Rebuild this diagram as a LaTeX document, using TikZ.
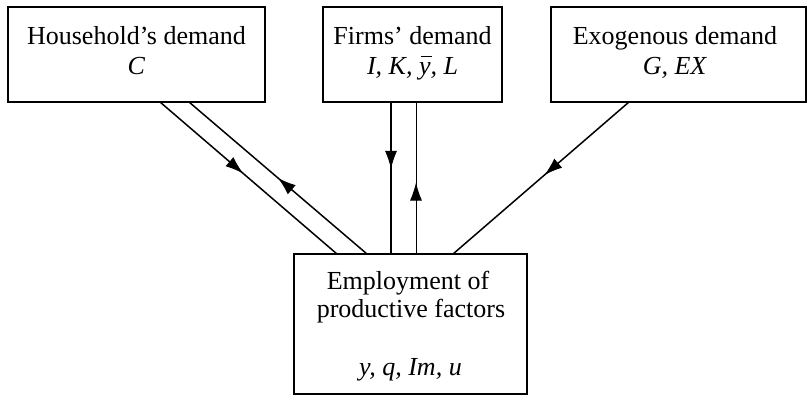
\documentclass[tikz,border=0pt]{standalone}
\usepackage{fontspec}
\setmainfont{Liberation Serif}
\usetikzlibrary{arrows.meta,decorations.markings}
\newcommand{\ybarsym}{\leavevmode\hbox{\rlap{\kern0.08em\raisebox{0.68em}{\rule{0.42em}{0.05em}}}\textit{y}}}
\begin{document}
\begin{tikzpicture}[x=1pt,y=-1pt,
  box/.style={draw,line width=2pt,inner sep=0pt,outer sep=0pt},
  lbl/.style={font=\fontsize{26}{30}\selectfont,inner sep=0pt,anchor=base},
  flow/.style={line width=1.5pt,postaction={decorate},
    decoration={markings,mark=at position #1 with {\arrow[line width=1pt]{Latex[length=18pt,width=12pt]}}}},
]
\useasboundingbox (0,0) rectangle (808,395);
% boxes
\node[box,minimum width=257pt,minimum height=95pt] (hh) at (136.5,54.5) {};
\node[box,minimum width=179pt,minimum height=95pt] (firm) at (412.5,54.5) {};
\node[box,minimum width=255pt,minimum height=95pt] (exo) at (678.5,54.5) {};
\node[box,minimum width=233pt,minimum height=140pt] (emp) at (410.5,324) {};
% texts
\node[lbl] (t1) at (136.5,45) {Household’s demand};
\node[lbl] (t2) at (136.5,75) {\textit{C}};
\node[lbl] (t3) at (412.5,45) {Firms’ demand};
\node[lbl] (t4) at (412.5,75) {\textit{I, K, \ybarsym, L}};
\node[lbl] (t5) at (675,45) {Exogenous demand};
\node[lbl] (t6) at (675,75) {\textit{G, EX}};
\node[lbl] (t7) at (408,290) {Employment of};
\node[lbl] (t8) at (411,317) {productive factors};
\node[lbl] (t9) at (410.5,375) {\textit{y, q, Im, u}};
% connectors
\draw[flow=0.47] ([xshift=152pt]hh.south west) -- ([xshift=43pt]emp.north west);
\draw[flow=0.5] ([xshift=73pt]emp.north west) -- ([xshift=181pt]hh.south west);
\draw[flow=0.44,line width=1.8pt] ([xshift=68pt]firm.south west) -- ([xshift=97pt]emp.north west);
\draw[flow=0.47,line width=1pt] ([xshift=122pt]emp.north west) -- ([xshift=93pt]firm.south west);
\draw[flow=0.48] ([xshift=78pt]exo.south west) -- ([xshift=159pt]emp.north west);
\end{tikzpicture}
\end{document}
